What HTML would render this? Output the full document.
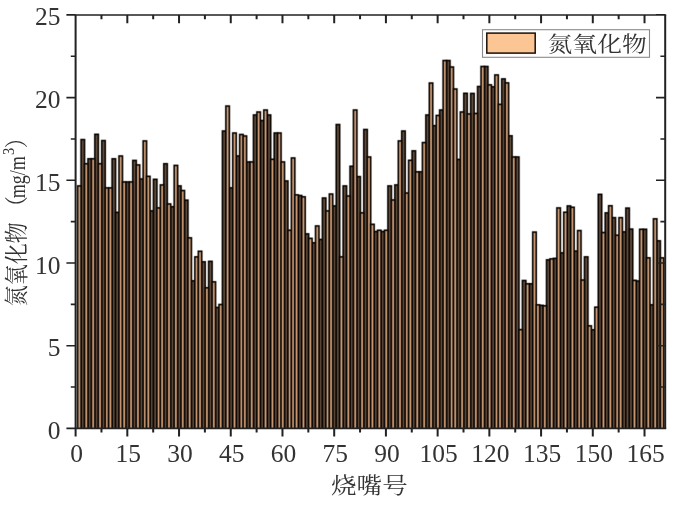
<!DOCTYPE html>
<html lang="zh"><head><meta charset="utf-8"><title>氮氧化物</title>
<style>html,body{margin:0;padding:0;background:#fff}svg{display:block}</style>
</head><body>
<svg width="681" height="516" viewBox="0 0 681 516">
<rect width="681" height="516" fill="#fff"/>
<defs><clipPath id="cp"><rect x="75.6" y="15.0" width="589.6" height="413.4"/></clipPath>
<g id="bars" stroke="#0a0603" stroke-width="1.62">
<rect x="60" y="0" width="620" height="440" fill="#fff" stroke="none"/>
<g fill="#66503f"><rect x="81.07" y="139.61" width="3.448" height="291.79"/><rect x="87.97" y="158.80" width="3.448" height="272.60"/><rect x="94.86" y="134.32" width="3.448" height="297.08"/><rect x="101.76" y="140.60" width="3.448" height="290.80"/><rect x="112.10" y="158.80" width="3.448" height="272.60"/><rect x="115.55" y="212.39" width="3.448" height="219.01"/><rect x="125.90" y="181.95" width="3.448" height="249.45"/><rect x="132.79" y="160.45" width="3.448" height="270.95"/><rect x="139.69" y="178.98" width="3.448" height="252.42"/><rect x="150.03" y="210.90" width="3.448" height="220.50"/><rect x="153.48" y="179.31" width="3.448" height="252.09"/><rect x="163.82" y="163.76" width="3.448" height="267.64"/><rect x="170.72" y="206.76" width="3.448" height="224.64"/><rect x="177.62" y="185.92" width="3.448" height="245.48"/><rect x="184.51" y="200.15" width="3.448" height="231.25"/><rect x="191.41" y="280.86" width="3.448" height="150.54"/><rect x="201.75" y="261.84" width="3.448" height="169.56"/><rect x="208.65" y="261.35" width="3.448" height="170.05"/><rect x="215.54" y="307.49" width="3.448" height="123.91"/><rect x="222.44" y="131.01" width="3.448" height="300.39"/><rect x="229.34" y="187.91" width="3.448" height="243.49"/><rect x="236.23" y="155.99" width="3.448" height="275.41"/><rect x="246.58" y="161.94" width="3.448" height="269.46"/><rect x="253.47" y="114.97" width="3.448" height="316.43"/><rect x="260.37" y="120.59" width="3.448" height="310.81"/><rect x="267.26" y="114.97" width="3.448" height="316.43"/><rect x="274.16" y="133.00" width="3.448" height="298.40"/><rect x="284.50" y="180.96" width="3.448" height="250.44"/><rect x="298.30" y="195.52" width="3.448" height="235.88"/><rect x="305.19" y="233.89" width="3.448" height="197.51"/><rect x="312.09" y="242.82" width="3.448" height="188.58"/><rect x="318.98" y="239.51" width="3.448" height="191.89"/><rect x="322.43" y="198.00" width="3.448" height="233.40"/><rect x="332.78" y="205.94" width="3.448" height="225.46"/><rect x="336.22" y="124.56" width="3.448" height="306.84"/><rect x="343.12" y="185.92" width="3.448" height="245.48"/><rect x="350.02" y="166.24" width="3.448" height="265.16"/><rect x="356.91" y="176.66" width="3.448" height="254.74"/><rect x="363.81" y="129.52" width="3.448" height="301.88"/><rect x="374.15" y="231.57" width="3.448" height="199.83"/><rect x="381.05" y="231.57" width="3.448" height="199.83"/><rect x="387.94" y="185.92" width="3.448" height="245.48"/><rect x="394.84" y="184.93" width="3.448" height="246.47"/><rect x="401.74" y="131.01" width="3.448" height="300.39"/><rect x="412.08" y="150.86" width="3.448" height="280.54"/><rect x="418.98" y="171.86" width="3.448" height="259.54"/><rect x="425.87" y="114.97" width="3.448" height="316.43"/><rect x="432.77" y="125.72" width="3.448" height="305.68"/><rect x="439.66" y="110.00" width="3.448" height="321.39"/><rect x="446.56" y="60.55" width="3.448" height="370.85"/><rect x="456.90" y="159.46" width="3.448" height="271.94"/><rect x="463.80" y="93.30" width="3.448" height="338.10"/><rect x="470.70" y="93.46" width="3.448" height="337.94"/><rect x="477.59" y="86.52" width="3.448" height="344.88"/><rect x="484.49" y="66.50" width="3.448" height="364.90"/><rect x="491.38" y="86.85" width="3.448" height="344.55"/><rect x="501.73" y="78.91" width="3.448" height="352.49"/><rect x="508.62" y="135.81" width="3.448" height="295.59"/><rect x="515.52" y="156.98" width="3.448" height="274.42"/><rect x="522.42" y="280.53" width="3.448" height="150.87"/><rect x="529.31" y="283.84" width="3.448" height="147.56"/><rect x="539.66" y="305.34" width="3.448" height="126.06"/><rect x="546.55" y="259.86" width="3.448" height="171.54"/><rect x="553.45" y="258.37" width="3.448" height="173.03"/><rect x="560.34" y="252.91" width="3.448" height="178.49"/><rect x="567.24" y="205.94" width="3.448" height="225.46"/><rect x="574.14" y="251.09" width="3.448" height="180.31"/><rect x="584.48" y="256.88" width="3.448" height="174.52"/><rect x="591.38" y="329.82" width="3.448" height="101.58"/><rect x="598.27" y="194.36" width="3.448" height="237.04"/><rect x="605.17" y="212.88" width="3.448" height="218.52"/><rect x="612.06" y="217.68" width="3.448" height="213.72"/><rect x="622.41" y="231.90" width="3.448" height="199.50"/><rect x="625.86" y="208.09" width="3.448" height="223.31"/><rect x="629.30" y="229.09" width="3.448" height="202.31"/><rect x="636.20" y="281.03" width="3.448" height="150.37"/><rect x="643.10" y="229.26" width="3.448" height="202.14"/><rect x="649.99" y="304.85" width="3.448" height="126.55"/><rect x="656.89" y="240.84" width="3.448" height="190.56"/></g>
<g fill="#D2A079"><rect x="77.62" y="185.92" width="3.448" height="245.48"/><rect x="84.52" y="163.76" width="3.448" height="267.64"/><rect x="91.42" y="158.80" width="3.448" height="272.60"/><rect x="98.31" y="163.76" width="3.448" height="267.64"/><rect x="105.21" y="187.91" width="3.448" height="243.49"/><rect x="108.66" y="187.91" width="3.448" height="243.49"/><rect x="119.00" y="155.99" width="3.448" height="275.41"/><rect x="122.45" y="181.95" width="3.448" height="249.45"/><rect x="129.34" y="181.95" width="3.448" height="249.45"/><rect x="136.24" y="164.92" width="3.448" height="266.48"/><rect x="143.14" y="140.93" width="3.448" height="290.47"/><rect x="146.58" y="176.33" width="3.448" height="255.07"/><rect x="156.93" y="207.92" width="3.448" height="223.48"/><rect x="160.38" y="184.93" width="3.448" height="246.47"/><rect x="167.27" y="203.95" width="3.448" height="227.45"/><rect x="174.17" y="165.41" width="3.448" height="265.99"/><rect x="181.06" y="190.55" width="3.448" height="240.85"/><rect x="187.96" y="237.86" width="3.448" height="193.54"/><rect x="194.86" y="256.88" width="3.448" height="174.52"/><rect x="198.30" y="251.26" width="3.448" height="180.14"/><rect x="205.20" y="287.81" width="3.448" height="143.59"/><rect x="212.10" y="281.86" width="3.448" height="149.54"/><rect x="218.99" y="304.52" width="3.448" height="126.88"/><rect x="225.89" y="106.04" width="3.448" height="325.36"/><rect x="232.78" y="133.00" width="3.448" height="298.40"/><rect x="239.68" y="134.48" width="3.448" height="296.92"/><rect x="243.13" y="135.97" width="3.448" height="295.43"/><rect x="250.02" y="161.94" width="3.448" height="269.46"/><rect x="256.92" y="111.99" width="3.448" height="319.41"/><rect x="263.82" y="110.00" width="3.448" height="321.39"/><rect x="270.71" y="159.29" width="3.448" height="272.11"/><rect x="277.61" y="133.00" width="3.448" height="298.40"/><rect x="281.06" y="161.94" width="3.448" height="269.46"/><rect x="287.95" y="230.25" width="3.448" height="201.15"/><rect x="291.40" y="157.97" width="3.448" height="273.43"/><rect x="294.85" y="194.86" width="3.448" height="236.54"/><rect x="301.74" y="196.84" width="3.448" height="234.56"/><rect x="308.64" y="238.36" width="3.448" height="193.04"/><rect x="315.54" y="225.95" width="3.448" height="205.45"/><rect x="325.88" y="210.90" width="3.448" height="220.50"/><rect x="329.33" y="194.03" width="3.448" height="237.37"/><rect x="339.67" y="256.88" width="3.448" height="174.52"/><rect x="346.57" y="196.01" width="3.448" height="235.39"/><rect x="353.46" y="110.00" width="3.448" height="321.39"/><rect x="360.36" y="212.88" width="3.448" height="218.52"/><rect x="367.26" y="156.98" width="3.448" height="274.42"/><rect x="370.70" y="224.30" width="3.448" height="207.10"/><rect x="377.60" y="230.25" width="3.448" height="201.15"/><rect x="384.50" y="230.25" width="3.448" height="201.15"/><rect x="391.39" y="199.98" width="3.448" height="231.42"/><rect x="398.29" y="140.93" width="3.448" height="290.47"/><rect x="405.18" y="193.04" width="3.448" height="238.36"/><rect x="408.63" y="160.29" width="3.448" height="271.11"/><rect x="415.53" y="171.86" width="3.448" height="259.54"/><rect x="422.42" y="142.59" width="3.448" height="288.81"/><rect x="429.32" y="83.04" width="3.448" height="348.36"/><rect x="436.22" y="115.46" width="3.448" height="315.94"/><rect x="443.11" y="60.55" width="3.448" height="370.85"/><rect x="450.01" y="67.00" width="3.448" height="364.40"/><rect x="453.46" y="89.00" width="3.448" height="342.40"/><rect x="460.35" y="111.99" width="3.448" height="319.41"/><rect x="467.25" y="113.97" width="3.448" height="317.43"/><rect x="474.14" y="113.48" width="3.448" height="317.92"/><rect x="481.04" y="66.50" width="3.448" height="364.90"/><rect x="487.94" y="84.86" width="3.448" height="346.54"/><rect x="494.83" y="74.94" width="3.448" height="356.46"/><rect x="498.28" y="104.38" width="3.448" height="327.02"/><rect x="505.18" y="82.88" width="3.448" height="348.52"/><rect x="512.07" y="156.98" width="3.448" height="274.42"/><rect x="518.97" y="329.66" width="3.448" height="101.74"/><rect x="525.86" y="283.84" width="3.448" height="147.56"/><rect x="532.76" y="232.07" width="3.448" height="199.33"/><rect x="536.21" y="304.85" width="3.448" height="126.55"/><rect x="543.10" y="305.84" width="3.448" height="125.56"/><rect x="550.00" y="258.87" width="3.448" height="172.53"/><rect x="556.90" y="207.92" width="3.448" height="223.48"/><rect x="563.79" y="212.22" width="3.448" height="219.18"/><rect x="570.69" y="207.26" width="3.448" height="224.14"/><rect x="577.58" y="230.58" width="3.448" height="200.82"/><rect x="581.03" y="280.04" width="3.448" height="151.36"/><rect x="587.93" y="325.85" width="3.448" height="105.55"/><rect x="594.82" y="307.16" width="3.448" height="124.24"/><rect x="601.72" y="232.57" width="3.448" height="198.83"/><rect x="608.62" y="205.77" width="3.448" height="225.63"/><rect x="615.51" y="235.21" width="3.448" height="196.19"/><rect x="618.96" y="217.68" width="3.448" height="213.72"/><rect x="632.75" y="280.37" width="3.448" height="151.03"/><rect x="639.65" y="229.26" width="3.448" height="202.14"/><rect x="646.54" y="257.87" width="3.448" height="173.53"/><rect x="653.44" y="218.84" width="3.448" height="212.56"/><rect x="660.34" y="257.87" width="3.448" height="173.53"/></g>
</g>
<g id="barsh"><use href="#bars" x="-0.55"/><use href="#bars" x="0.55" opacity="0.5"/><use href="#bars" opacity="0.5"/></g>
</defs>
<g clip-path="url(#cp)"><use href="#barsh" y="-0.5"/><use href="#barsh" y="0.5" opacity="0.5"/><use href="#barsh" opacity="0.5"/></g>
<g stroke="#222" fill="none" stroke-linecap="butt">
<path stroke-width="1.6" d="M74.60 15.0H666.20M74.60 428.4H666.20M75.6 428.40h-9.2M665.2 428.40h-9.2M75.6 387.05h-4.8M665.2 387.05h-4.8M75.6 345.70h-9.2M665.2 345.70h-9.2M75.6 304.35h-4.8M665.2 304.35h-4.8M75.6 263.00h-9.2M665.2 263.00h-9.2M75.6 221.65h-4.8M665.2 221.65h-4.8M75.6 180.30h-9.2M665.2 180.30h-9.2M75.6 138.95h-4.8M665.2 138.95h-4.8M75.6 97.60h-9.2M665.2 97.60h-9.2M75.6 56.25h-4.8M665.2 56.25h-4.8M75.6 14.90h-9.2M665.2 14.90h-9.2"/>
<path stroke-width="2.0" d="M75.6 15.0V428.4M665.2 15.0V428.4M75.60 428.4v8.2M75.60 15.0v8.2M101.46 428.4v4.2M101.46 15.0v4.2M127.32 428.4v8.2M127.32 15.0v8.2M153.18 428.4v4.2M153.18 15.0v4.2M179.04 428.4v8.2M179.04 15.0v8.2M204.90 428.4v4.2M204.90 15.0v4.2M230.76 428.4v8.2M230.76 15.0v8.2M256.62 428.4v4.2M256.62 15.0v4.2M282.48 428.4v8.2M282.48 15.0v8.2M308.34 428.4v4.2M308.34 15.0v4.2M334.20 428.4v8.2M334.20 15.0v8.2M360.06 428.4v4.2M360.06 15.0v4.2M385.92 428.4v8.2M385.92 15.0v8.2M411.78 428.4v4.2M411.78 15.0v4.2M437.64 428.4v8.2M437.64 15.0v8.2M463.50 428.4v4.2M463.50 15.0v4.2M489.36 428.4v8.2M489.36 15.0v8.2M515.22 428.4v4.2M515.22 15.0v4.2M541.08 428.4v8.2M541.08 15.0v8.2M566.94 428.4v4.2M566.94 15.0v4.2M592.80 428.4v8.2M592.80 15.0v8.2M618.66 428.4v4.2M618.66 15.0v4.2M644.52 428.4v8.2M644.52 15.0v8.2"/>
</g>
<g font-family="'Liberation Serif', serif" font-size="24.4" fill="#333" text-anchor="middle">
<text transform="translate(76.60 461.8) scale(1.045 1)">0</text>
<text transform="translate(128.32 461.8) scale(1.045 1)">15</text>
<text transform="translate(180.04 461.8) scale(1.045 1)">30</text>
<text transform="translate(231.76 461.8) scale(1.045 1)">45</text>
<text transform="translate(283.48 461.8) scale(1.045 1)">60</text>
<text transform="translate(335.20 461.8) scale(1.045 1)">75</text>
<text transform="translate(386.92 461.8) scale(1.045 1)">90</text>
<text transform="translate(438.64 461.8) scale(1.045 1)">105</text>
<text transform="translate(490.36 461.8) scale(1.045 1)">120</text>
<text transform="translate(542.08 461.8) scale(1.045 1)">135</text>
<text transform="translate(593.80 461.8) scale(1.045 1)">150</text>
<text transform="translate(645.52 461.8) scale(1.045 1)">165</text>
<text text-anchor="end" transform="translate(60.5 438.90) scale(1.045 1)">0</text>
<text text-anchor="end" transform="translate(60.5 356.20) scale(1.045 1)">5</text>
<text text-anchor="end" transform="translate(60.5 273.50) scale(1.045 1)">10</text>
<text text-anchor="end" transform="translate(60.5 190.80) scale(1.045 1)">15</text>
<text text-anchor="end" transform="translate(60.5 108.10) scale(1.045 1)">20</text>
<text text-anchor="end" transform="translate(60.5 25.40) scale(1.045 1)">25</text>
</g>
<g font-family="'Liberation Serif', 'Noto Serif CJK SC', serif" fill="#333">
<text text-anchor="middle" font-size="21.5" transform="translate(369.4 493) scale(1.19 1)">烧嘴号</text>
<g transform="translate(24.5 306.2) scale(1.12 1) rotate(-90)" font-size="21">
<text y="0"><tspan x="0">氮氧化物</tspan><tspan x="89">（</tspan><tspan x="108" textLength="42" lengthAdjust="spacingAndGlyphs">mg/m</tspan><tspan x="151.2" dy="-9.1" font-size="14.5">3</tspan><tspan x="158" dy="9.1">）</tspan></text>
</g>
<rect x="482.5" y="29.7" width="167" height="27.6" fill="#fff" stroke="#8a8a8a" stroke-width="1.1"/>
<rect x="486.8" y="33.1" width="48.4" height="20" fill="#FCC594" stroke="#1a0f08" stroke-width="1.5"/>
<text font-size="21" transform="translate(547.6 51) scale(1.18 1)">氮氧化物</text>
</g>
</svg>
</body></html>
